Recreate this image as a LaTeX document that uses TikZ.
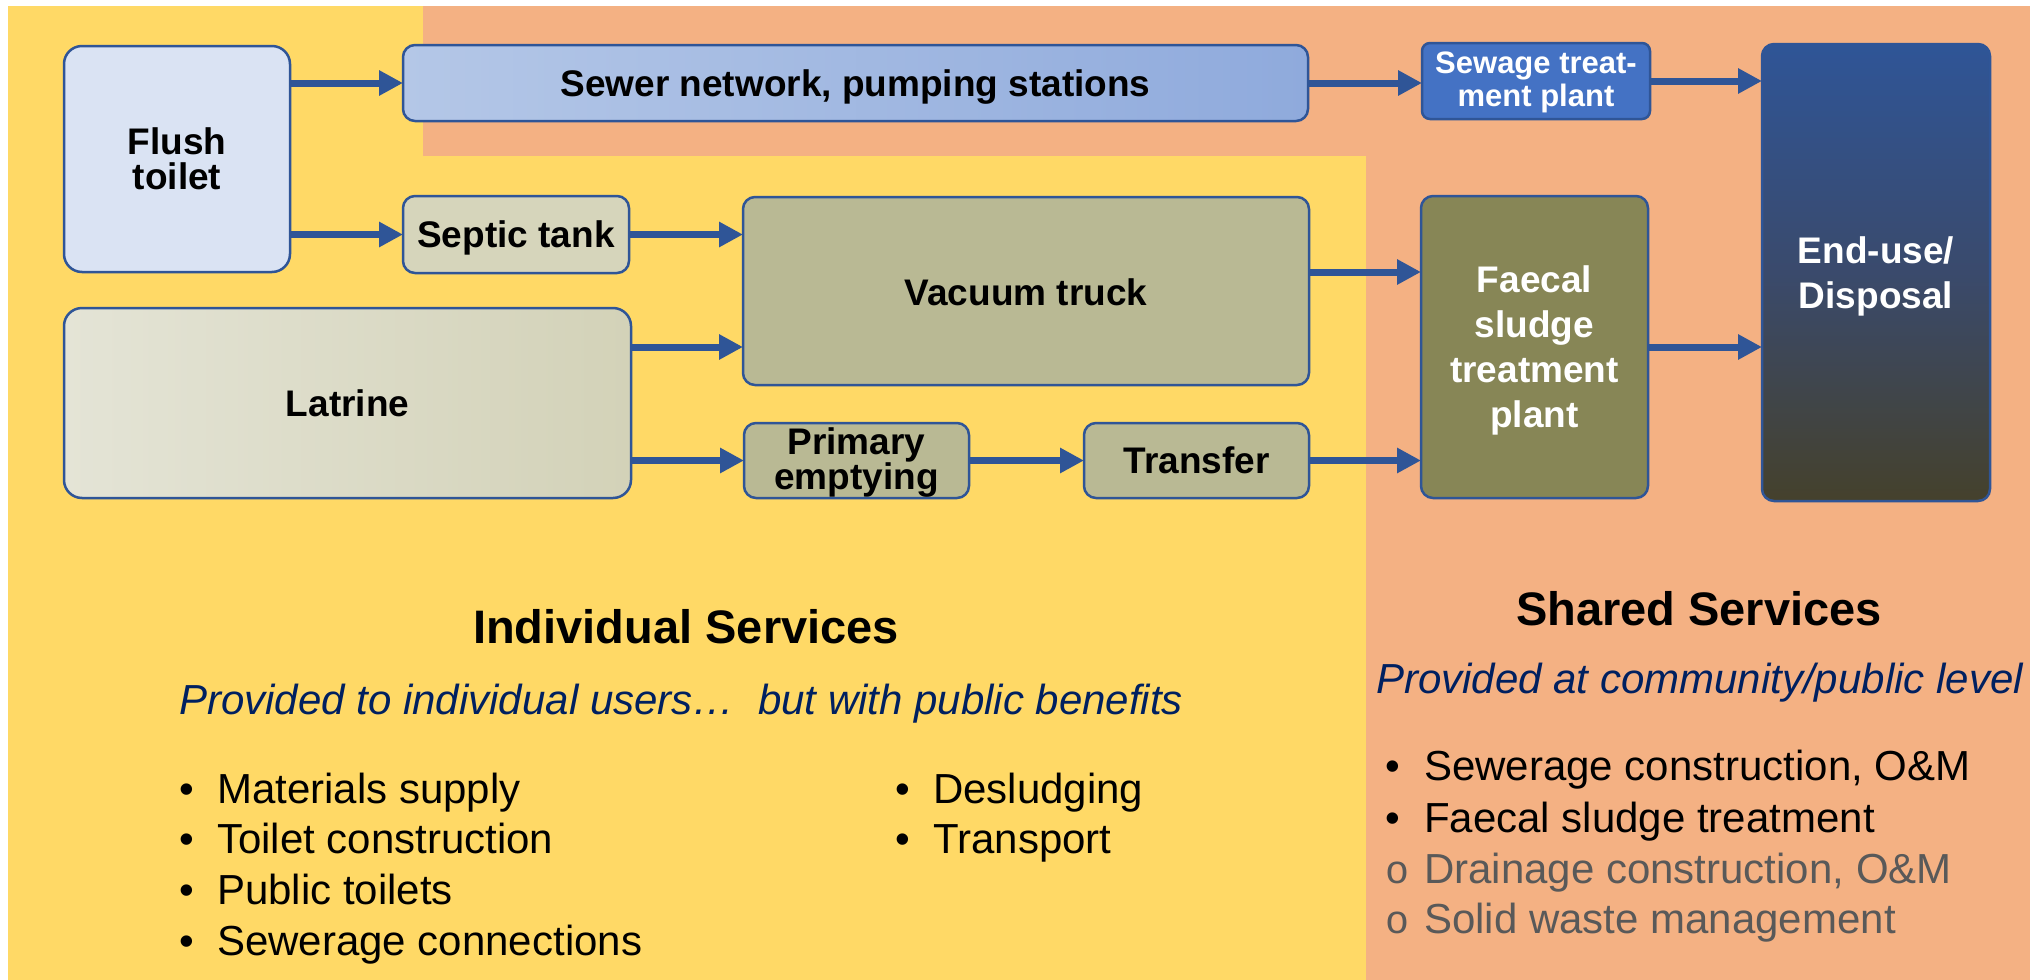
\documentclass[tikz,border=0pt]{standalone}
\usepackage{fontspec}
\setmainfont{Liberation Sans}
\newfontfamily\hollowfam{Liberation Mono}
\usetikzlibrary{arrows.meta}
\definecolor{bgyellow}{HTML}{FFD966}
\definecolor{bgorange}{HTML}{F4B183}
\definecolor{edge}{HTML}{2F5597}
\definecolor{arrowblue}{HTML}{2F5597}
\definecolor{flushfill}{HTML}{DAE3F3}
\definecolor{sewerL}{HTML}{B4C7E7}
\definecolor{sewerR}{HTML}{8FAADC}
\definecolor{stpfill}{HTML}{4472C4}
\definecolor{septicfill}{HTML}{D6D5BB}
\definecolor{khaki}{HTML}{B9B994}
\definecolor{latL}{HTML}{E4E4D6}
\definecolor{latR}{HTML}{D3D2B8}
\definecolor{fsfill}{HTML}{878656}
\definecolor{endtop}{HTML}{2F5597}
\definecolor{endmid}{HTML}{3A4A6C}
\definecolor{endbot}{HTML}{45412C}
\definecolor{navy}{HTML}{002060}
\definecolor{greytext}{HTML}{595959}
\begin{document}
\begin{tikzpicture}[x=1pt,y=-1pt,
  box/.style={draw=edge, line width=2.5pt, rounded corners=12pt, inner sep=0pt, outer sep=0pt,
    align=center, text depth=0pt, font=\fontsize{37}{35}\selectfont\bfseries},
  arr/.style={draw=arrowblue, line width=7pt, -{Triangle[length=24pt,width=24pt]}},
  title/.style={anchor=base, inner sep=0pt, font=\fontsize{47}{47}\selectfont\bfseries},
  subtitle/.style={anchor=base west, inner sep=0pt, text=navy, font=\fontsize{42}{42}\selectfont\itshape},
  bul/.style={anchor=base west, inner sep=0pt, font=\fontsize{42}{42}\selectfont},
  greybul/.style={bul, text=greytext}
]
\clip (0,0) rectangle (2030,980);
% backgrounds
\fill[white] (0,0) rectangle (2030,980);
\fill[bgyellow] (8,6) rectangle (1366,980);
\fill[bgorange] (423,6) rectangle (1366,156);
\fill[bgorange] (1366,6) rectangle (2030,980);

% boxes
\node[box, fill=flushfill, rounded corners=18pt, minimum width=226pt, minimum height=226pt] (flush) at (177,159) {Flush\\toilet};
\node[box, left color=sewerL, right color=sewerR, minimum width=905pt, minimum height=76pt] (sewer) at (855.5,83) {Sewer network, pumping stations};
\node[box, fill=septicfill, minimum width=226pt, minimum height=77pt] (septic) at (516,234.5) {Septic tank};
\node[box, fill=khaki, minimum width=566pt, minimum height=188pt] (vacuum) at (1026,291) {\raisebox{-2pt}{Vacuum truck}};
\node[box, left color=latL, right color=latR, rounded corners=18pt, minimum width=567pt, minimum height=190pt] (latrine) at (347.5,403) {Latrine};
\node[box, fill=khaki, minimum width=225pt, minimum height=75pt, text depth=4pt, font=\fontsize{37}{31}\selectfont\bfseries] (primary) at (856.5,460.5) {Primary\\emptying};
\node[box, fill=khaki, minimum width=225pt, minimum height=75pt] (transfer) at (1196.5,460.5) {Transfer};
\node[box, fill=stpfill, text=white, rounded corners=8pt, minimum width=228pt, minimum height=76pt, text depth=4pt, font=\fontsize{31}{33}\selectfont\bfseries] (stp) at (1536,81) {Sewage treat-\\ment plant};
\node[box, fill=fsfill, text=white, minimum width=227pt, minimum height=302pt, font=\fontsize{37}{45}\selectfont\bfseries] (fs) at (1534.5,347) {Faecal\\sludge\\treatment\\plant};
\node[box, top color=endtop, bottom color=endbot, middle color=endmid, text=white, minimum width=228pt, minimum height=457pt, font=\fontsize{37}{45}\selectfont\bfseries] (end) at (1876,272.5) {End-use/\\Disposal};

% helper rows
\coordinate (rowA) at (0,347);
\coordinate (rowB) at (0,272);

% connectors
\draw[arr] (sewer.west -| flush.east) -- (sewer.west);
\draw[arr] (septic.west -| flush.east) -- (septic.west);
\draw[arr] (septic.east) -- (septic.east -| vacuum.west);
\draw[arr] (rowA -| latrine.east) -- (rowA -| vacuum.west);
\draw[arr] (primary.west -| latrine.east) -- (primary.west);
\draw[arr] (primary.east) -- (transfer.west);
\draw[arr] (transfer.east) -- (transfer.east -| fs.west);
\draw[arr] (rowB -| vacuum.east) -- (rowB -| fs.west);
\draw[arr] (sewer.east) -- (sewer.east -| stp.west);
\draw[arr] (stp.east) -- (stp.east -| end.west);
\draw[arr] (rowA -| fs.east) -- (rowA -| end.west);

% individual services text
\node[title] (indt) at (686,643) {Individual Services};
\node[subtitle] (inds) at (179,714) {Provided to individual users…\ \ but with public benefits};
\node[bul] (i1) at (179,803) {\makebox[38pt][l]{•}Materials supply};
\node[bul] (i2) at (179,853) {\makebox[38pt][l]{•}Toilet construction};
\node[bul] (i3) at (179,904) {\makebox[38pt][l]{•}Public toilets};
\node[bul] (i4) at (179,955) {\makebox[38pt][l]{•}Sewerage connections};
\node[bul] (i5) at (895,803) {\makebox[38pt][l]{•}Desludging};
\node[bul] (i6) at (895,853) {\makebox[38pt][l]{•}Transport};

% shared services text
\node[title] (sht) at (1699,625) {Shared Services};
\node[subtitle] (shs) at (1376,693) {Provided at community/public level};
\node[bul] (s1) at (1385,780) {\makebox[39pt][l]{•}Sewerage construction, O\&M};
\node[bul] (s2) at (1385,832) {\makebox[39pt][l]{•}Faecal sludge treatment};
\node[greybul] (s3) at (1385,883) {\makebox[39pt][l]{\hollowfam\fontsize{40}{40}\selectfont o}Drainage construction, O\&M};
\node[greybul] (s4) at (1385,933) {\makebox[39pt][l]{\hollowfam\fontsize{40}{40}\selectfont o}Solid waste management};
\end{tikzpicture}
\end{document}
